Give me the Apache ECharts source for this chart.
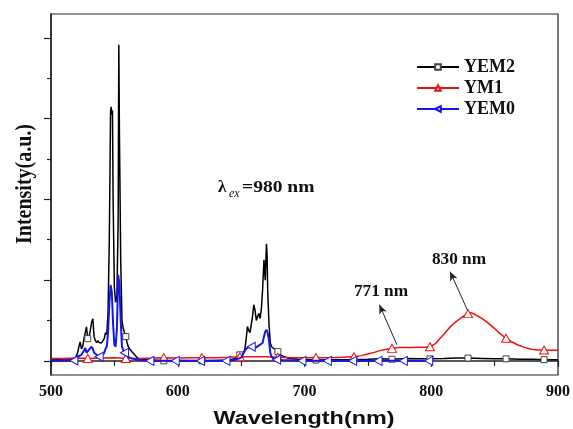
<!DOCTYPE html>
<html>
<head>
<meta charset="utf-8">
<script src="https://cdn.jsdelivr.net/npm/echarts@6/dist/echarts.min.js"></script>
<style>
  html, body { margin: 0; padding: 0; background: #fff; }
  #chart { width: 573px; height: 429px; }
</style>
</head>
<body>
<div id="chart"></div>
<script>
// spectra: [wavelength nm, intensity a.u.]
const yem2 = [
  [500, 0.02], [505, 0.03], [510, 0.02], [515, 0.03], [519, 0.05], [521, 0.2], [522, 0.35], [523, 0.47],
  [524, 0.3], [525, 0.35], [526, 0.55], [527, 0.7], [528, 0.84], [529, 0.55], [530, 0.6], [531, 0.75],
  [532, 0.95], [533, 1.04], [534, 0.6], [535, 0.5], [536, 0.45], [537, 0.5], [538, 0.45], [539, 0.42],
  [540, 0.45], [541, 0.5], [542, 0.55], [543, 0.7], [544, 0.65], [545, 1.2], [546, 3.0], [547, 6.2],
  [547.5, 6.29], [548, 6.1], [548.5, 6.2], [549, 4.0], [550, 1.8], [551, 1.45], [552, 1.6], [553, 3.5],
  [553.5, 7.83], [554, 5.6], [555, 2.5], [556, 1.0], [557, 0.8], [558, 0.7], [559, 0.6], [560, 0.45],
  [561, 0.35], [562, 0.3], [564, 0.22], [566, 0.15], [568, 0.08], [570, 0.05], [575, 0.03], [580, 0.02],
  [589, 0.0], [600, 0.01], [619, 0.0], [630, 0.01], [640, 0.02], [645, 0.05], [648, 0.12], [649, 0.15],
  [650, 0.1], [651, 0.12], [652, 0.2], [653, 0.3], [654, 0.55], [655, 0.85], [656, 0.75], [657, 0.7],
  [658, 0.9], [659, 1.1], [660, 1.39], [661, 1.25], [662, 1.0], [663, 1.1], [664, 1.18], [665, 1.05],
  [666, 1.3], [667, 1.8], [668, 2.5], [668.5, 2.3], [669, 2.0], [670, 2.9], [670.5, 2.6], [671, 1.7],
  [672, 0.9], [673, 0.45], [674, 0.35], [676, 0.3], [678, 0.25], [679, 0.23], [681, 0.15], [684, 0.1],
  [688, 0.06], [695, 0.04], [709, 0.02], [720, 0.03], [739, 0.03], [750, 0.04], [760, 0.05], [769, 0.04],
  [780, 0.06], [790, 0.05], [799, 0.05], [810, 0.06], [820, 0.07], [829, 0.07], [840, 0.06], [850, 0.05],
  [859, 0.05], [870, 0.04], [880, 0.04], [889, 0.03], [900, 0.03]
];
const ym1 = [
  [500, 0.06], [510, 0.06], [520, 0.07], [529, 0.06], [540, 0.07], [550, 0.08], [559, 0.06], [570, 0.06],
  [580, 0.07], [589, 0.08], [600, 0.07], [610, 0.08], [619, 0.08], [630, 0.08], [640, 0.09], [649, 0.1],
  [660, 0.1], [670, 0.1], [679, 0.09], [690, 0.08], [700, 0.08], [709, 0.08], [720, 0.08], [730, 0.09],
  [739, 0.1], [745, 0.13], [750, 0.17], [755, 0.21], [760, 0.26], [765, 0.29], [769, 0.31], [775, 0.33],
  [780, 0.33], [785, 0.33], [790, 0.34], [795, 0.34], [799, 0.35], [803, 0.42], [806, 0.52], [810, 0.66],
  [814, 0.81], [818, 0.93], [822, 1.03], [826, 1.12], [829, 1.17], [831, 1.19], [834, 1.16], [837, 1.1],
  [840, 1.05], [844, 0.96], [847, 0.88], [850, 0.8], [854, 0.68], [859, 0.56], [863, 0.48], [868, 0.4],
  [873, 0.34], [879, 0.29], [884, 0.27], [889, 0.27], [895, 0.26], [900, 0.26]
];
const yem0 = [
  [500, 0.0], [505, 0.01], [510, 0.0], [515, 0.01], [518, 0.01], [520, 0.05], [522, 0.12], [524, 0.15],
  [526, 0.25], [527, 0.32], [528, 0.2], [529, 0.22], [530, 0.28], [531, 0.3], [532, 0.35], [533, 0.3],
  [534, 0.2], [535, 0.18], [536, 0.15], [537, 0.12], [538, 0.1], [540, 0.12], [542, 0.2], [543, 0.3],
  [544, 0.35], [545, 0.7], [546, 1.4], [547, 1.88], [548, 1.7], [549, 0.9], [550, 0.4], [551, 0.35],
  [552, 0.8], [553, 2.13], [554, 1.9], [555, 1.0], [556, 0.35], [557, 0.27], [558, 0.2], [560, 0.12],
  [562, 0.08], [565, 0.05], [570, 0.02], [578, 0.0], [598, 0.0], [618, 0.0], [638, 0.0], [645, 0.02],
  [650, 0.08], [652, 0.2], [654, 0.3], [656, 0.34], [657, 0.3], [658, 0.35], [659, 0.4], [661, 0.32],
  [663, 0.36], [665, 0.4], [667, 0.45], [668, 0.6], [669, 0.72], [670, 0.77], [671, 0.69], [672, 0.5],
  [673, 0.2], [674, 0.1], [676, 0.05], [678, 0.03], [680, 0.02], [698, 0.0], [718, 0.0], [738, 0.0],
  [758, 0.0], [778, 0.0], [798, 0.0], [800, 0.0]
];

// wavelengths where the hollow markers sit
const yem2Marks = [529, 559, 589, 619, 649, 679, 709, 739, 769, 799, 829, 859, 889];
const ym1Marks = [529, 559, 589, 619, 649, 679, 709, 739, 769, 799, 829, 859, 889];
const yem0Marks = [518, 538, 558, 578, 598, 618, 638, 658, 678, 698, 718, 738, 758, 778, 798];

const seriesNames = ['YEM2', 'YM1', 'YEM0'];
const xTicks = [500, 600, 700, 800, 900];
const yMajor = [0, 2, 4, 6, 8];
const yMinor = [1, 3, 5, 7];

// arrows: [from, to] in data units
const arrow771 = [[772.9, 0.40], [759.1, 1.39]];
const arrow830 = [[828.7, 1.245], [814.9, 2.21]];

const build = (pts, marks) =>
  pts.map(p => (marks.includes(p[0]) ? { value: p } : { value: p, symbol: 'none' }));

const serif = '"Liberation Serif", "Times New Roman", serif';
const sans = '"Liberation Sans", Arial, sans-serif';

const chart = echarts.init(document.getElementById('chart'));

chart.setOption({
  animation: false,
  backgroundColor: '#fff',
  grid: {
    left: 51, right: 13, top: 14, bottom: 54,
    show: true, borderColor: '#222', borderWidth: 1.2
  },
  legend: {
    orient: 'vertical',
    left: 411,
    top: 53,
    itemWidth: 42,
    itemHeight: 7,
    itemGap: 3,
    data: seriesNames,
    textStyle: { fontFamily: serif, fontWeight: 'bold', fontSize: 18, color: '#111', lineHeight: 18 }
  },
  xAxis: {
    type: 'value',
    min: 500,
    max: 900,
    interval: 100,
    axisLine: { lineStyle: { color: '#222', width: 1.5 } },
    axisTick: { length: 6, lineStyle: { color: '#222', width: 1.2 } },
    minorTick: { show: true, splitNumber: 2, length: 5, lineStyle: { color: '#222', width: 1.2 } },
    splitLine: { show: false },
    axisLabel: {
      customValues: xTicks,
      margin: 9,
      fontFamily: serif, fontWeight: 'bold', fontSize: 16, color: '#111'
    }
  },
  yAxis: [
    {
      type: 'value',
      min: -0.35,
      max: 8.59,
      axisLine: { show: true, lineStyle: { color: '#222', width: 1.5 } },
      axisTick: { show: true, customValues: yMajor, length: 7, lineStyle: { color: '#222', width: 1.2 } },
      axisLabel: { show: false },
      splitLine: { show: false }
    },
    {
      type: 'value',
      position: 'left',
      min: -0.35,
      max: 8.59,
      axisLine: { show: false },
      axisTick: { show: true, customValues: yMinor, length: 4, lineStyle: { color: '#222', width: 1.2 } },
      axisLabel: { show: false },
      splitLine: { show: false }
    }
  ],
  series: [
    {
      name: 'YEM2',
      type: 'line',
      data: build(yem2, yem2Marks),
      symbol: 'rect',
      symbolSize: 6,
      showAllSymbol: true,
      lineStyle: { color: '#000', width: 1.5 },
      itemStyle: { color: '#fff', borderColor: '#444', borderWidth: 1 },
      z: 2
    },
    {
      name: 'YM1',
      type: 'line',
      data: build(ym1, ym1Marks),
      symbol: 'triangle',
      symbolSize: [9, 8],
      showAllSymbol: true,
      lineStyle: { color: '#ee1111', width: 1.5 },
      itemStyle: { color: '#fff', borderColor: '#ee1111', borderWidth: 1 },
      markLine: {
        silent: true,
        symbol: ['none', 'arrow'],
        symbolSize: [6, 9],
        label: { show: false },
        lineStyle: { color: '#222', width: 1, type: 'solid' },
        data: [
          [{ coord: arrow771[0] }, { coord: arrow771[1] }],
          [{ coord: arrow830[0] }, { coord: arrow830[1] }]
        ]
      },
      z: 3
    },
    {
      name: 'YEM0',
      type: 'line',
      data: build(yem0, yem0Marks),
      symbol: 'path://M0,5L10,0L10,10Z',
      symbolSize: [8, 9],
      showAllSymbol: true,
      lineStyle: { color: '#1515ee', width: 2 },
      itemStyle: { color: '#fff', borderColor: '#1515ee', borderWidth: 1 },
      z: 4
    }
  ],
  graphic: [
    {
      type: 'text', x: 304, y: 419, scaleX: 1.3,
      style: { text: 'Wavelength(nm)', fontFamily: sans, fontWeight: 'bold', fontSize: 18, fill: '#111', align: 'center', verticalAlign: 'middle' }
    },
    {
      type: 'text', x: 25, y: 184, rotation: Math.PI / 2, scaleY: 1.2,
      style: { text: 'Intensity(a.u.)', fontFamily: serif, fontWeight: 'bold', fontSize: 20, fill: '#111', align: 'center', verticalAlign: 'middle' }
    },
    {
      type: 'text', x: 218, y: 188,
      style: { text: 'λ', fontFamily: serif, fontWeight: 'bold', fontSize: 17, fill: '#111', align: 'left', verticalAlign: 'middle' }
    },
    {
      type: 'text', x: 229, y: 194,
      style: { text: 'ex', fontFamily: serif, fontStyle: 'italic', fontSize: 12, fill: '#111', align: 'left', verticalAlign: 'middle' }
    },
    {
      type: 'text', x: 242, y: 188, scaleX: 1.15,
      style: { text: '=980 nm', fontFamily: serif, fontWeight: 'bold', fontSize: 17, fill: '#111', align: 'left', verticalAlign: 'middle' }
    },
    {
      type: 'text', x: 381, y: 292, scaleX: 1.08,
      style: { text: '771 nm', fontFamily: serif, fontWeight: 'bold', fontSize: 16, fill: '#111', align: 'center', verticalAlign: 'middle' }
    },
    {
      type: 'text', x: 459, y: 260, scaleX: 1.08,
      style: { text: '830 nm', fontFamily: serif, fontWeight: 'bold', fontSize: 16, fill: '#111', align: 'center', verticalAlign: 'middle' }
    }
  ]
});
</script>
</body>
</html>
